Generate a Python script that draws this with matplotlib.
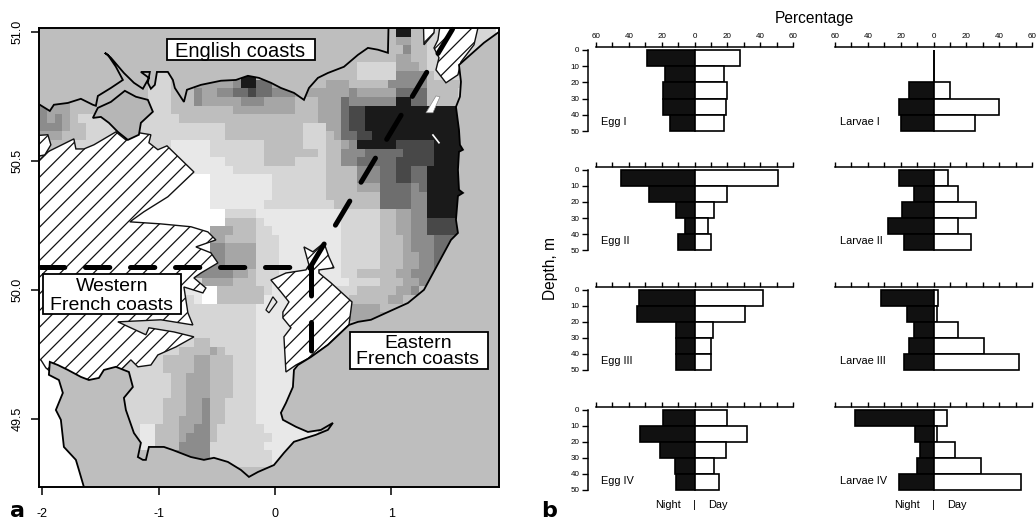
import numpy as np
import matplotlib
matplotlib.use("Agg")
import matplotlib.pyplot as plt
from matplotlib.colors import ListedColormap, BoundaryNorm
from matplotlib.patches import Polygon, Rectangle

plt.rcParams["font.family"] = ["Liberation Sans", "DejaVu Sans"]
plt.rcParams["hatch.linewidth"] = 0.9
plt.rcParams["lines.scale_dashes"] = False

FIG_W, FIG_H = 1036, 524

# abundance grid, one string per row from north to south: "level:end_column"
N_COLS = 59
GRID_LON0 = -2.028
GRID_LAT0 = 51.014
GRID_DLON = 1 / 15
GRID_DLAT = 1 / 30
GRAYS = ["#ffffff", "#e8e8e8", "#d6d6d6", "#bebebe", "#a6a6a6",
         "#8c8c8c", "#6e6e6e", "#484848", "#1a1a1a"]
GRID_ROWS = [
    "3:46 8:48 3:50 2:59",
    "3:46 4:48 3:50 2:59",
    "3:47 5:48 3:50 2:59",
    "3:46 4:48 3:50 2:59",
    "3:41 2:46 4:49 3:50 2:59",
    "3:14 2:17 3:26 8:28 3:41 2:46 5:50 3:51 2:59",
    "3:14 2:17 3:20 4:25 5:26 8:28 6:30 4:33 3:37 4:40 3:45 5:50 3:59",
    "3:14 2:17 3:20 5:21 4:23 5:25 6:27 7:28 6:30 5:33 4:40 5:41 4:46 6:50 3:54 2:59",
    "5:1 4:4 3:14 2:17 3:20 5:21 4:26 5:29 4:33 3:36 4:39 6:40 5:46 8:48 6:50 3:54 2:59",
    "5:1 4:4 3:14 2:17 3:25 4:33 3:36 4:39 6:40 7:42 8:59",
    "5:1 4:2 5:3 4:4 3:5 2:18 3:36 4:39 6:40 7:42 8:59",
    "5:3 4:4 3:6 2:24 3:34 2:37 4:39 6:40 7:42 8:59",
    "4:3 3:6 2:24 3:34 2:37 3:38 4:39 6:41 7:43 8:59",
    "3:4 2:17 1:22 2:29 3:34 2:37 3:39 4:40 5:41 8:46 7:51 8:59",
    "3:4 2:17 1:22 2:29 3:36 2:37 3:39 5:42 6:47 7:51 8:59",
    "2:17 1:24 2:29 3:33 2:37 3:39 5:41 6:46 7:51 8:59",
    "1:25 2:37 3:41 5:44 6:46 7:48 6:50 8:59",
    "0:22 1:30 2:37 3:41 5:44 6:46 7:48 6:50 8:59",
    "0:22 1:30 2:37 3:41 4:44 6:48 5:49 6:50 8:59",
    "0:22 1:30 2:37 3:44 6:48 5:50 8:59",
    "0:22 1:29 2:38 3:44 6:48 5:50 8:59",
    "0:24 2:28 1:39 2:44 3:46 4:48 5:50 8:59",
    "0:24 3:28 2:29 1:39 2:44 3:46 4:48 5:50 7:59",
    "0:22 4:25 3:28 2:30 1:39 2:44 3:46 4:48 5:50 7:59",
    "0:22 4:24 3:28 2:31 1:39 2:44 3:47 4:48 5:51 6:59",
    "0:22 5:24 4:28 2:31 1:39 2:44 3:47 4:48 5:51 6:59",
    "1:20 5:24 4:28 2:31 1:39 2:44 3:47 4:49 5:51 6:59",
    "1:20 5:24 4:28 2:31 1:39 2:44 3:47 4:49 5:51 6:59",
    "1:20 5:25 4:27 3:28 2:31 1:39 2:41 3:46 4:48 5:52 3:59",
    "2:21 4:25 3:28 2:30 1:40 2:44 3:47 4:49 5:51 3:59",
    "1:21 0:23 3:29 2:30 1:38 2:41 3:46 4:48 5:49 3:59",
    "2:20 1:21 0:23 3:29 1:38 2:40 3:45 4:47 3:59",
    "2:28 1:36 3:40 4:44 3:59",
    "2:28 1:39 4:45 3:59",
    "2:28 1:36 3:59",
    "2:28 1:36 3:59",
    "2:20 3:22 2:28 1:36 3:59",
    "2:18 3:22 4:23 3:24 2:28 1:36 3:59",
    "0:6 2:16 3:20 4:22 3:25 2:28 1:36 3:59",
    "0:6 2:16 3:20 4:22 3:25 2:28 1:36 3:59",
    "0:6 2:17 3:19 4:22 3:25 2:28 1:36 3:59",
    "0:6 2:17 3:19 4:22 3:25 2:28 1:36 3:59",
    "0:6 2:17 3:19 4:22 3:25 2:28 1:36 3:59",
    "0:6 2:16 3:19 4:21 5:22 3:24 2:28 1:36 3:59",
    "0:6 2:16 3:19 4:21 5:22 3:24 2:28 1:36 3:59",
    "0:6 2:16 3:18 4:21 5:22 3:24 2:28 1:36 3:59",
    "0:6 2:13 1:15 3:18 4:20 5:22 3:23 2:29 1:36 3:59",
    "0:6 2:13 1:15 3:18 4:19 5:22 3:23 2:30 1:36 3:59",
    "0:6 1:15 3:18 5:22 2:29 1:33 3:59",
    "0:6 3:17 5:22 2:30 1:33 3:59",
    "0:6 3:18 5:22 2:30 1:33 3:59",
    "0:6 3:59",
    "0:6 3:59",
]

# coast outlines, lon/lat
ENGLAND = [(-2.2, 50.717), (-2.021, 50.717), (-1.935, 50.693), (-1.900, 50.717), (-1.780, 50.724),
           (-1.668, 50.740), (-1.565, 50.717), (-1.539, 50.713), (-1.522, 50.751), (-1.410, 50.782),
           (-1.307, 50.813), (-1.367, 50.864), (-1.436, 50.910), (-1.462, 50.918), (-1.410, 50.899),
           (-1.298, 50.840), (-1.212, 50.802), (-1.135, 50.779), (-1.083, 50.821), (-1.152, 50.844),
           (-1.075, 50.844), (-1.092, 50.802), (-1.066, 50.779), (-1.032, 50.794), (-1.014, 50.844),
           (-0.920, 50.844), (-0.877, 50.813), (-0.860, 50.782), (-0.782, 50.728), (-0.756, 50.775),
           (-0.636, 50.794), (-0.464, 50.810), (-0.335, 50.813), (-0.232, 50.829), (-0.137, 50.821),
           (-0.034, 50.802), (0.052, 50.782), (0.164, 50.763), (0.250, 50.736), (0.293, 50.782),
           (0.370, 50.821), (0.456, 50.840), (0.594, 50.864), (0.714, 50.910), (0.800, 50.937),
           (0.886, 50.930), (0.972, 50.918), (0.981, 51.1), (-2.2, 51.1)]
WIGHT = [(-1.565, 50.666), (-1.522, 50.705), (-1.410, 50.728), (-1.290, 50.771), (-1.195, 50.748),
         (-1.092, 50.736), (-1.049, 50.690), (-1.152, 50.647), (-1.169, 50.601), (-1.264, 50.581),
         (-1.350, 50.612), (-1.427, 50.647), (-1.496, 50.670)]
FRANCE = [(2.2, 51.0), (1.927, 50.999), (1.798, 50.957), (1.660, 50.902), (1.583, 50.871),
          (1.600, 50.806), (1.591, 50.748), (1.557, 50.709), (1.583, 50.620), (1.591, 50.562),
          (1.617, 50.543), (1.583, 50.535), (1.574, 50.465), (1.583, 50.388), (1.617, 50.376),
          (1.574, 50.364), (1.557, 50.272), (1.574, 50.221), (1.514, 50.194), (1.454, 50.144),
          (1.342, 50.051), (1.282, 50.001), (1.144, 49.950), (0.972, 49.915), (0.826, 49.885),
          (0.714, 49.877), (0.637, 49.865), (0.456, 49.788), (0.310, 49.741), (0.198, 49.710),
          (0.164, 49.691), (0.155, 49.625), (0.095, 49.563), (0.052, 49.525), (0.069, 49.498),
          (0.181, 49.471), (0.284, 49.451), (0.396, 49.459), (0.499, 49.486), (0.456, 49.459),
          (0.353, 49.440), (0.164, 49.413), (0.078, 49.370), (-0.008, 49.323), (-0.146, 49.296),
          (-0.223, 49.277), (-0.292, 49.304), (-0.404, 49.335), (-0.524, 49.351), (-0.610, 49.343),
          (-0.722, 49.354), (-0.877, 49.381), (-0.954, 49.393), (-1.083, 49.393), (-1.109, 49.343),
          (-1.135, 49.343), (-1.178, 49.354), (-1.152, 49.409), (-1.212, 49.447), (-1.281, 49.536),
          (-1.298, 49.583), (-1.221, 49.625), (-1.255, 49.683), (-1.367, 49.703), (-1.470, 49.691),
          (-1.513, 49.660), (-1.599, 49.652), (-1.668, 49.664), (-1.780, 49.691), (-1.866, 49.710),
          (-1.935, 49.722), (-1.943, 49.672), (-1.857, 49.652), (-1.823, 49.602), (-1.883, 49.536),
          (-1.840, 49.498), (-1.814, 49.393), (-1.711, 49.343), (-1.685, 49.304), (-1.642, 49.238),
          (-1.60, 49.1), (2.2, 49.1)]
BAY_SOMME = [(1.574, 50.240), (1.617, 50.252), (1.669, 50.206), (1.660, 50.186), (1.574, 50.221)]

# closed areas (hatched)
AREA_WEST = [(-2.2, 50.504), (-2.021, 50.504), (-1.952, 50.535), (-1.728, 50.585), (-1.711, 50.546),
             (-1.642, 50.546), (-1.556, 50.562), (-1.367, 50.612), (-1.281, 50.581), (-1.161, 50.608),
             (-1.066, 50.601), (-1.083, 50.570), (-1.006, 50.543), (-0.928, 50.558), (-0.696, 50.457),
             (-0.920, 50.361), (-1.126, 50.303), (-1.247, 50.264), (-0.980, 50.256), (-0.722, 50.245),
             (-0.576, 50.225), (-0.507, 50.194), (-0.679, 50.167), (-0.550, 50.144), (-0.490, 50.105),
             (-0.636, 50.066), (-0.696, 50.047), (-0.593, 50.008), (-0.619, 49.989), (-0.782, 50.012),
             (-0.748, 49.912), (-0.705, 49.865), (-0.980, 49.885), (-1.350, 49.877), (-1.109, 49.827),
             (-1.083, 49.854), (-0.868, 49.838), (-0.696, 49.819), (-0.851, 49.780), (-1.006, 49.749),
             (-1.066, 49.710), (-1.178, 49.703), (-1.238, 49.730), (-1.307, 49.699), (-1.496, 49.633),
             (-1.926, 49.683), (-1.969, 49.699), (-2.012, 49.730), (-2.2, 49.730)]
AREA_WEST_2 = [(-2.2, 50.593), (-1.952, 50.601), (-1.926, 50.562), (-1.978, 50.523), (-2.2, 50.504)]
AREA_EAST = [(0.250, 50.167), (0.327, 50.148), (0.422, 50.183), (0.465, 50.128), (0.508, 50.086),
             (0.379, 50.078), (0.379, 50.066), (0.482, 50.028), (0.663, 49.954), (0.637, 49.865),
             (0.456, 49.788), (0.310, 49.741), (0.181, 49.710), (0.095, 49.683), (0.078, 49.819),
             (0.138, 49.854), (0.069, 49.892), (0.069, 49.915), (0.121, 49.954), (0.052, 49.993),
             (-0.034, 50.039), (0.095, 50.066), (0.267, 50.078), (0.293, 50.097)]
AREA_NE_1 = [(1.273, 51.1), (1.282, 50.949), (1.368, 50.995), (1.385, 51.1)]
AREA_NE_2 = [(1.368, 50.937), (1.402, 50.968), (1.445, 51.1), (1.790, 51.1), (1.712, 50.949),
             (1.600, 50.883), (1.574, 50.833), (1.471, 50.802), (1.385, 50.852), (1.411, 50.899)]
ISLET = [(-0.077, 49.923), (-0.017, 49.974), (0.018, 49.954), (-0.051, 49.912)]
SLIVER_1 = [(1.299, 50.686), (1.385, 50.751), (1.419, 50.748), (1.359, 50.686)]
SLIVER_2 = [(1.359, 50.600), (1.411, 50.570)]

# section lines
LINE_H_LON = [-2.016, 0.31]
LINE_H_LAT = [50.088, 50.088]
LINE_V_LON = [0.31, 0.31]
LINE_V_LAT = [50.088, 49.761]
LINE_D_LON = [0.30, 1.54]
LINE_D_LAT = [50.085, 51.019]

# name boxes
BOX_TEXTS = ["English coasts", "Western\nFrench coasts", "Eastern\nFrench coasts"]
BOX_LON = [-0.301, -1.401, 1.230]
BOX_LAT = [50.922, 49.977, 49.763]
BOX_LON0 = [-0.928, -1.995, 0.645]
BOX_LON1 = [0.344, -0.808, 1.832]
BOX_LAT0 = [50.891, 49.908, 49.695]
BOX_LAT1 = [50.972, 50.063, 49.838]
BOX_FONT = [14.5, 14, 14]
BOX_SPACING = [1, 1.08, 0.89]

MAP_XTICKS = [-2, -1, 0, 1]
MAP_YTICKS = [49.5, 50.0, 50.5, 51.0]

# vertical distribution panels, percent per 10 m layer
DEPTH_EDGES = [0, 10, 20, 30, 40, 50]
EGG_LABELS = ["Egg I", "Egg II", "Egg III", "Egg IV"]
EGG_NIGHT = [[29, 18, 19, 19, 15], [45, 28, 11, 6, 10], [34, 35, 11, 11, 11], [19, 33, 21, 12, 11]]
EGG_DAY = [[28, 18, 20, 19, 18], [51, 20, 12, 8, 10], [42, 31, 11, 10, 10], [20, 32, 19, 12, 15]]
LARVAE_LABELS = ["Larvae I", "Larvae II", "Larvae III", "Larvae IV"]
LARVAE_NIGHT = [[0, 0, 15, 21, 20], [21, 12, 19, 28, 18], [32, 16, 12, 15, 18], [48, 11, 8, 10, 21]]
LARVAE_DAY = [[0, 0, 10, 40, 25], [9, 15, 26, 15, 23], [3, 2, 15, 31, 52], [8, 2, 13, 29, 53]]
PCT_TICKS = [-60, -50, -40, -30, -20, -10, 0, 10, 20, 30, 40, 50, 60]


def px_axes(fig, left, top, right, bottom):
    return fig.add_axes([left / FIG_W, 1 - bottom / FIG_H,
                         (right - left) / FIG_W, (bottom - top) / FIG_H])


def decode_row(row):
    levels = []
    for part in row.split():
        level, end = part.split(":")
        levels += [int(level)] * (int(end) - len(levels))
    levels += [3] * (N_COLS - len(levels))
    return levels[:N_COLS]


def draw_map(ax):
    grid = np.array([decode_row(r) for r in GRID_ROWS])
    lon_edges = GRID_LON0 + GRID_DLON * np.arange(N_COLS + 1)
    lat_edges = GRID_LAT0 - GRID_DLAT * np.arange(len(GRID_ROWS) + 1)
    cmap = ListedColormap(GRAYS)
    norm = BoundaryNorm(np.arange(len(GRAYS) + 1) - 0.5, cmap.N)
    ax.pcolormesh(lon_edges, lat_edges, grid, cmap=cmap, norm=norm, shading="flat", linewidth=0)

    for area in [AREA_WEST, AREA_WEST_2, AREA_EAST, AREA_NE_1, AREA_NE_2]:
        ax.add_patch(Polygon(area, closed=True, facecolor="white", edgecolor="#111111",
                             hatch="//", linewidth=1.0))
    ax.add_patch(Polygon(ISLET, closed=True, facecolor="#e8e8e8", edgecolor="#111111", linewidth=0.9))
    ax.add_patch(Polygon(BAY_SOMME, closed=True, facecolor="white", edgecolor="black", linewidth=1.0))
    ax.add_patch(Polygon(SLIVER_1, closed=True, facecolor="white", edgecolor="#888888", linewidth=0.5))
    ax.plot(*zip(*SLIVER_2), color="white", lw=1.2)

    for coast in [ENGLAND, FRANCE]:
        ax.add_patch(Polygon(coast, closed=True, facecolor="#bebebe", edgecolor="black", linewidth=1.3))
    ax.add_patch(Polygon(WIGHT, closed=True, facecolor="#b6b6b6", edgecolor="black", linewidth=1.3))

    lw = 3.6
    ax.plot(LINE_H_LON, LINE_H_LAT, color="black", lw=lw, dash_capstyle="round",
            linestyle=(0, (17.5, 14.9)), clip_on=False, zorder=5)
    ax.plot(LINE_V_LON, LINE_V_LAT, color="black", lw=lw, dash_capstyle="round",
            linestyle=(0, (20.5, 19.1)), clip_on=False, zorder=5)
    ax.plot(LINE_D_LON, LINE_D_LAT, color="black", lw=lw, dash_capstyle="round",
            linestyle=(0, (20.2, 15.8)), clip_on=False, zorder=5)

    for i, label in enumerate(BOX_TEXTS):
        ax.add_patch(Rectangle((BOX_LON0[i], BOX_LAT0[i]), BOX_LON1[i] - BOX_LON0[i],
                               BOX_LAT1[i] - BOX_LAT0[i], facecolor="white", edgecolor="black",
                               linewidth=1.3, zorder=6))
        ax.text(BOX_LON[i], BOX_LAT[i], label, fontsize=BOX_FONT[i], ha="center", va="center",
                linespacing=BOX_SPACING[i], zorder=7)

    ax.set_xlim(-2.028, 1.927)
    ax.set_ylim(49.238, 51.014)
    ax.set_xticks(MAP_XTICKS)
    ax.set_xticklabels([str(v) for v in MAP_XTICKS], fontsize=9)
    ax.set_yticks(MAP_YTICKS)
    ax.set_yticklabels([f"{v:.1f}" for v in MAP_YTICKS], fontsize=9, rotation=90, va="center")
    ax.tick_params(axis="x", length=5.8, width=1.1, pad=9.5)
    ax.tick_params(axis="y", length=5.8, width=1.1, pad=5)
    for spine in ax.spines.values():
        spine.set_linewidth(1.4)


def draw_panel(ax, night, day, label, top_labels, left_axis):
    centers = [(a + b) / 2 for a, b in zip(DEPTH_EDGES[:-1], DEPTH_EDGES[1:])]
    ax.barh(centers, [-v for v in night], height=10, color="#111111", edgecolor="black",
            linewidth=1.2, clip_on=False)
    ax.barh(centers, day, height=10, color="white", edgecolor="black", linewidth=1.2, clip_on=False)
    ax.set_xlim(-60, 60)
    ax.set_ylim(50, 0)
    ax.patch.set_alpha(0)
    ax.spines["right"].set_visible(False)
    ax.spines["bottom"].set_visible(False)
    ax.spines["top"].set_position(("outward", 2.2))
    ax.spines["top"].set_linewidth(1.1)
    ax.xaxis.tick_top()
    ax.set_xticks(PCT_TICKS)
    if top_labels:
        ax.set_xticklabels([str(abs(v)) if v % 20 == 0 else "" for v in PCT_TICKS], fontsize=5.8)
    else:
        ax.set_xticklabels([])
    ax.tick_params(axis="x", length=3.8, width=1.0, pad=1.2)
    if left_axis:
        ax.spines["left"].set_position(("outward", 5.8))
        ax.spines["left"].set_linewidth(1.1)
        ax.set_yticks(DEPTH_EDGES)
        ax.set_yticklabels([str(v) for v in DEPTH_EDGES], fontsize=5.8)
        ax.tick_params(axis="y", length=4.2, width=1.0, pad=2)
    else:
        ax.spines["left"].set_visible(False)
        ax.set_yticks([])
    ax.text(-56.7, 44.5, label, fontsize=7.9, ha="left", va="center")


def main():
    fig = plt.figure(figsize=(FIG_W / 100, FIG_H / 100), dpi=100)

    ax_map = px_axes(fig, 39, 28, 499, 487)
    draw_map(ax_map)

    rows = [(50, 131), (170, 250), (290, 370), (410, 490)]
    for i, (top, bottom) in enumerate(rows):
        ax = px_axes(fig, 596, top, 793, bottom)
        draw_panel(ax, EGG_NIGHT[i], EGG_DAY[i], EGG_LABELS[i], i == 0, True)
        ax2 = px_axes(fig, 835, top, 1032, bottom)
        draw_panel(ax2, LARVAE_NIGHT[i], LARVAE_DAY[i], LARVAE_LABELS[i], i == 0, False)
        if i == 3:
            for a in (ax, ax2):
                a.text(-8, 59.5, "Night", fontsize=7.9, ha="right", va="center", clip_on=False)
                a.text(0, 59.5, "|", fontsize=7.9, ha="center", va="center", clip_on=False)
                a.text(8, 59.5, "Day", fontsize=7.9, ha="left", va="center", clip_on=False)

    fig.text(814 / FIG_W, 1 - 18 / FIG_H, "Percentage", fontsize=11.2, ha="center", va="center")
    fig.text(550 / FIG_W, 1 - 268 / FIG_H, "Depth, m", fontsize=11.2, rotation=90, ha="center", va="center")
    fig.text(10 / FIG_W, 1 - 517 / FIG_H, "a", fontsize=16, fontweight="bold", family="DejaVu Sans")
    fig.text(541 / FIG_W, 1 - 517 / FIG_H, "b", fontsize=16, fontweight="bold", family="DejaVu Sans")

    fig.savefig("out.png", dpi=100)


if __name__ == "__main__":
    main()
